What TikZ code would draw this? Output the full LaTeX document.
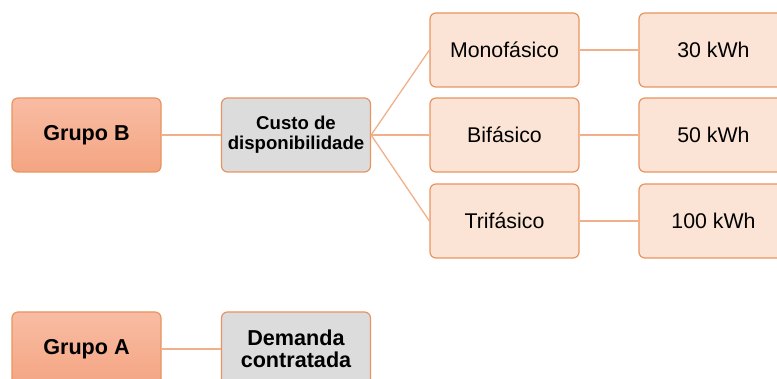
\documentclass[tikz,border=0pt]{standalone}
\usepackage{fontspec}
\setmainfont{Liberation Sans}
\newlength{\du}
\setlength{\du}{1pt}
\definecolor{grupotop}{rgb}{0.973, 0.737, 0.639}
\definecolor{grupobottom}{rgb}{0.957, 0.647, 0.510}
\definecolor{boxline}{rgb}{0.910, 0.580, 0.380}
\definecolor{linkcolor}{rgb}{0.945, 0.690, 0.540}
\definecolor{tipofill}{rgb}{0.984, 0.894, 0.835}
\definecolor{custofill}{rgb}{0.863, 0.863, 0.863}
\tikzset{
  basebox/.style={draw=boxline, line width=1.2\du, rounded corners=6\du,
    minimum width=149\du, minimum height=74\du, inner sep=0pt, align=center},
  grupobox/.style={basebox, top color=grupotop, bottom color=grupobottom,
    font=\fontsize{21.6}{22}\selectfont\bfseries},
  custobox/.style={basebox, fill=custofill},
  tipobox/.style={basebox, fill=tipofill, font=\fontsize{21.3}{22}\selectfont},
  link/.style={draw=linkcolor, line width=1.3\du}
}
\begin{document}
\begin{tikzpicture}[x=1\du,y=-1\du]
\useasboundingbox (0,0) rectangle (777,379);
% grupo B
\node[grupobox] (grupoB) at (86.5,135) {Grupo B};
\node[custobox, font=\fontsize{18.6}{20}\selectfont\bfseries] (custo) at (296,135) {Custo de\\disponibilidade};
\node[tipobox] (mono) at (504.5,50) {Monofásico};
\node[tipobox] (bi) at (504.5,135) {Bifásico};
\node[tipobox] (tri) at (504.5,221) {Trifásico};
\node[tipobox] (kwh30) at (713.5,50) {30 kWh};
\node[tipobox] (kwh50) at (713.5,135) {50 kWh};
\node[tipobox] (kwh100) at (713.5,221) {100 kWh};
% grupo A
\node[grupobox] (grupoA) at (86.5,349) {Grupo A};
\node[custobox, font=\fontsize{21.6}{22}\selectfont\bfseries] (demanda) at (296,349) {Demanda\\contratada};
% ligacoes
\draw[link] (grupoB.east) -- (custo.west);
\draw[link] (custo.east) -- (mono.west);
\draw[link] (custo.east) -- (bi.west);
\draw[link] (custo.east) -- (tri.west);
\draw[link] (mono.east) -- (kwh30.west);
\draw[link] (bi.east) -- (kwh50.west);
\draw[link] (tri.east) -- (kwh100.west);
\draw[link] (grupoA.east) -- (demanda.west);
\end{tikzpicture}
\end{document}
